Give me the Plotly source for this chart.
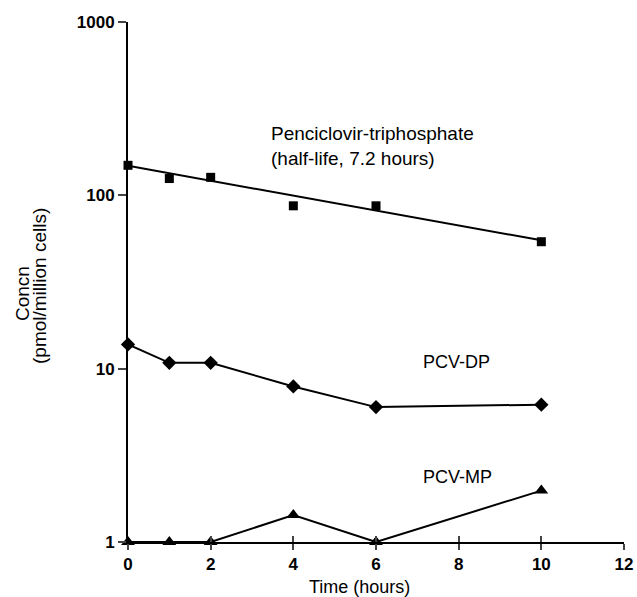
import plotly.graph_objects as go

time_tp = [0, 1, 2, 4, 6, 10]
tp_vals = [149, 125, 127, 87, 87, 54]
fit_x = [0, 10]
fit_y = [148, 55]
time_dp = [0, 1, 2, 4, 6, 10]
dp_vals = [13.8, 10.8, 10.8, 7.9, 6.0, 6.2]
time_mp = [0, 1, 2, 4, 6, 10]
mp_vals = [1.0, 1.0, 1.0, 1.43, 1.0, 1.98]
x_ticks = [0, 2, 4, 6, 8, 10, 12]
y_ticks = [1, 10, 100, 1000]

fig = go.Figure()
fig.add_trace(go.Scatter(x=fit_x, y=fit_y, mode="lines",
                         line=dict(color="black", width=2), cliponaxis=False))
fig.add_trace(go.Scatter(x=time_tp, y=tp_vals, mode="markers",
                         marker=dict(symbol="square", size=9, color="black"), cliponaxis=False))
fig.add_trace(go.Scatter(x=time_dp, y=dp_vals, mode="lines+markers",
                         line=dict(color="black", width=2),
                         marker=dict(symbol="diamond", size=11, color="black"), cliponaxis=False))
fig.add_trace(go.Scatter(x=time_mp, y=mp_vals, mode="lines+markers",
                         line=dict(color="black", width=2),
                         marker=dict(symbol="triangle-up", size=12, color="black"), cliponaxis=False))
# invisible trace to carry the inside-tick overlay axis
fig.add_trace(go.Scatter(x=[0, 12], y=[1, 1], mode="lines", line=dict(width=0),
                         xaxis="x2", hoverinfo="skip", showlegend=False))

font_main = "Liberation Sans, Arial, sans-serif"
fig.add_annotation(x=3.4, y=2.284, xref="x", yref="y", text="Penciclovir-triphosphate<br>(half-life, 7.2 hours)",
                   showarrow=False, xanchor="left", yanchor="middle", align="left",
                   font=dict(family=font_main, size=19, color="black"))
fig.add_annotation(x=7.08, y=1.038, xref="x", yref="y", text="PCV-DP",
                   showarrow=False, xanchor="left", yanchor="middle",
                   font=dict(family=font_main, size=18, color="black"))
fig.add_annotation(x=7.08, y=0.375, xref="x", yref="y", text="PCV-MP",
                   showarrow=False, xanchor="left", yanchor="middle",
                   font=dict(family=font_main, size=18, color="black"))
fig.add_annotation(x=0, y=0.5, xref="paper", yref="paper", xshift=-106, yshift=-12,
                   text="Concn", textangle=-90,
                   showarrow=False, xanchor="center", yanchor="middle",
                   font=dict(family=font_main, size=19, color="black"))
fig.add_annotation(x=0, y=0.5, xref="paper", yref="paper", xshift=-89, yshift=-4,
                   text="(pmol/million cells)", textangle=-90,
                   showarrow=False, xanchor="center", yanchor="middle",
                   font=dict(family=font_main, size=19, color="black"))
fig.add_annotation(x=0.467, y=0, xref="paper", yref="paper", yshift=-33,
                   text="Time (hours)",
                   showarrow=False, xanchor="center", yanchor="top",
                   font=dict(family=font_main, size=18, color="black"))

fig.update_layout(
    width=637, height=597,
    margin=dict(l=128, r=13, t=22, b=55),
    paper_bgcolor="white", plot_bgcolor="white",
    showlegend=False,
    font=dict(family=font_main, color="black"),
    xaxis=dict(range=[0, 12], tickvals=x_ticks, ticks="outside", ticklen=6, tickwidth=2,
               showline=True, linecolor="black", linewidth=2, showgrid=False, zeroline=False,
               automargin=False,
               tickfont=dict(size=17, family="Liberation Sans, Arial", weight="bold")),
    xaxis2=dict(range=[0, 12], tickvals=x_ticks, ticks="inside", ticklen=6, tickwidth=2,
                overlaying="x", side="bottom", showticklabels=False, showline=False,
                showgrid=False, zeroline=False, automargin=False),
    yaxis=dict(type="log", range=[0, 3], tickvals=y_ticks, ticktext=[str(v) for v in y_ticks],
               ticks="outside", ticklen=8, tickwidth=2, automargin=False,
               showline=True, linecolor="black", linewidth=2, showgrid=False, zeroline=False,
               tickfont=dict(size=17, family="Liberation Sans, Arial", weight="bold")),
)

page_fix = ("document.documentElement.style.overflow='hidden';"
            "document.body.style.margin='0';document.body.style.overflow='hidden';")
fig.write_html("out.html", post_script=page_fix, config={"displayModeBar": False})
